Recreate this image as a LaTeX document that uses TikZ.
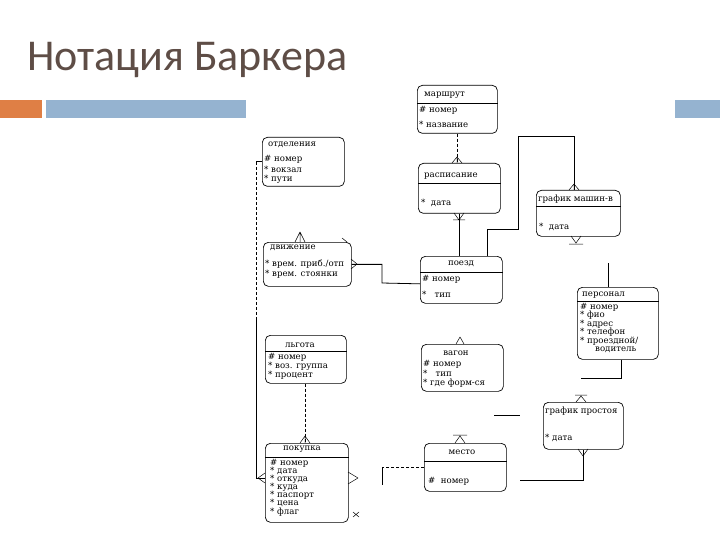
\documentclass[tikz,border=0pt]{standalone}
\usepackage{fontspec}
\setmainfont{DejaVu Serif}
\newfontfamily\titlefont{Carlito}
\definecolor{titlec}{HTML}{5E4D46}
\definecolor{orangebar}{HTML}{DF7F45}
\definecolor{bluebar}{HTML}{95B3D0}
\newcommand\erbox[5]{\node[ent, minimum width=#4pt, minimum height=#5pt] (#1) at (#2,#3) {};}
\begin{document}
\begin{tikzpicture}[x=1pt,y=-1pt,
  ent/.style={draw, rounded corners=5pt, line width=0.7pt, anchor=north west, inner sep=0pt},
  lbl/.style={font=\fontsize{8.6}{8.6}\selectfont, anchor=west, inner sep=0pt},
  ttl/.style={font=\fontsize{8.6}{8.6}\selectfont, anchor=center, inner sep=0pt},
  conn/.style={line width=0.8pt},
  dconn/.style={line width=0.8pt, dash pattern=on 3pt off 2pt},
  crow/.style={line width=0.5pt},
  sep/.style={line width=0.7pt}]
\useasboundingbox (0,0) rectangle (720,540);

% title and bars
\node[anchor=base west, font=\titlefont\fontsize{44}{44}\selectfont, text=titlec, inner sep=0pt] (title) at (27,71) {Нотация Баркера};
\fill[orangebar] (0,100) rectangle (42,118);
\fill[bluebar] (46,100) rectangle (246,118);
\fill[bluebar] (675,100) rectangle (720,118);

% boxes
\erbox{marsh}{417}{85}{80}{48}
\erbox{otd}{262}{137}{82}{49}
\erbox{rasp}{418}{163}{82}{50}
\erbox{grm}{536}{190}{84}{46}
\erbox{dv}{263}{242}{88}{44}
\erbox{poezd}{420}{256}{82}{47}
\erbox{pers}{577}{287}{81}{72}
\erbox{lg}{265}{335}{81}{48}
\erbox{vag}{421}{344}{82}{47}
\erbox{grp}{543}{402}{80}{47}
\erbox{pok}{265}{443}{83}{79}
\erbox{mesto}{424}{443}{82}{48}

% separators
\draw[sep] (marsh.west |- 0,103) -- (marsh.east |- 0,103);
\draw[sep] (rasp.west |- 0,183) -- (rasp.east |- 0,183);
\draw[sep] (grm.west |- 0,206) -- (grm.east |- 0,206);
\draw[sep] (poezd.west |- 0,272) -- (poezd.east |- 0,272);
\draw[sep] (pers.west |- 0,301) -- (pers.east |- 0,301);
\draw[sep] (lg.west |- 0,351) -- (lg.east |- 0,351);
\draw[sep] (pok.west |- 0,457) -- (pok.east |- 0,457);
\draw[sep] (mesto.west |- 0,461) -- (mesto.east |- 0,461);

% texts
\node[lbl] (t1) at (424,95) {маршрут};
\node[lbl] (a11) at (419,110) {\# номер};
\node[lbl] (a12) at (419,124) {* название};

\node[lbl] (t2) at (268,145) {отделения};
\node[lbl] (a21) at (264,159) {\# номер};
\node[lbl] (a22) at (264,169) {* вокзал};
\node[lbl] (a23) at (264,179) {* пути};

\node[lbl] (t3) at (424,176) {расписание};
\node[lbl] (a31) at (421,203) {* \ дата};

\node[lbl] (t4) at (538,199) {график машин-в};
\node[lbl] (a41) at (539,227) {* \ дата};

\node[lbl] (t5) at (270,248) {движение};
\node[lbl] (a51) at (265,264) {* врем. приб./отп};
\node[lbl] (a52) at (265,274) {* врем. стоянки};

\node[ttl] (t6) at (461,264) {поезд};
\node[lbl] (a61) at (422,279) {\# номер};
\node[lbl] (a62) at (422,294) {* \ \ тип};

\node[lbl] (t7) at (582,295) {персонал};
\node[lbl] (a71) at (580,307) {\# номер};
\node[lbl] (a72) at (580,315) {* фио};
\node[lbl] (a73) at (580,324) {* адрес};
\node[lbl] (a74) at (580,332) {* телефон};
\node[lbl] (a75) at (580,341) {* проездной/};
\node[lbl] (a76) at (595,350) {водитель};

\node[ttl] (t8) at (300,345) {льгота};
\node[lbl] (a81) at (268,357) {\# номер};
\node[lbl] (a82) at (268,366) {* воз. группа};
\node[lbl] (a83) at (268,375) {* процент};

\node[ttl] (t9) at (456,353) {вагон};
\node[lbl] (a91) at (423,364) {\# номер};
\node[lbl] (a92) at (423,373) {* \ \ тип};
\node[lbl] (a93) at (423,383) {* где форм-ся};

\node[lbl] (t10) at (545,411) {график простоя};
\node[lbl] (a101) at (545,438) {* дата};

\node[ttl] (t11) at (302,449) {покупка};
\node[lbl] (b1) at (270,463) {\# номер};
\node[lbl] (b2) at (270,471) {* дата};
\node[lbl] (b3) at (270,479) {* откуда};
\node[lbl] (b4) at (270,487) {* куда};
\node[lbl] (b5) at (270,495) {* паспорт};
\node[lbl] (b6) at (270,503) {* цена};
\node[lbl] (b7) at (270,512) {* флаг};

\node[ttl] (t12) at (462,452) {место};
\node[lbl] (c1) at (428,481) {\# \ номер};

% connectors
\draw[dconn] (marsh.south) -- (marsh.south |- rasp.north);
\draw[crow] (457,157) -- (452,163) (457,157) -- (457,163) (457,157) -- (462,163);

\draw[conn] (rasp.south) -- (rasp.south |- poezd.north);
\draw[crow] (459,220) -- (454,213) (459,220) -- (464,213) (453,220) -- (465,220);

\draw[conn] ([xshift=67pt]poezd.north west) |- (518,229) |- (574,136) -- ([xshift=38pt]grm.north west);
\draw[crow] (574,184) -- (569,190) (574,184) -- (574,190) (574,184) -- (579,190);

\draw[crow] (576,243) -- (571,236) (576,243) -- (581,236) (569,244) -- (583,244);

\draw[conn] ([xshift=31pt]pers.north west) -- ++(0,-24) coordinate (pt1);
\draw[conn] ([xshift=44pt]pers.south west) |- (581,378) coordinate (pt2);

\draw[conn] (dv.east) -| (382,283) -- ([yshift=-4pt]poezd.west);
\draw[crow] (357,264) -- (351,259) (357,264) -- (351,269);
\draw[crow] (300,232) -- (295,242) (300,232) -- (300,242) (300,232) -- (305,242);
\draw[crow] (342,238) -- (347,242);

\draw[conn] (otd.west) -- ++(-6,0) coordinate (lt);
\draw[dconn] (lt) -- ++(0,156) coordinate (lm);
\draw[conn] (lm) |- (pok.west |- 0,478);
\draw[crow] (258,478) -- (265,473) (258,478) -- (265,483);

\draw[dconn] (lg.south) -- (lg.south |- pok.north);
\draw[crow] (305,436) -- (300,443) (305,436) -- (305,443) (305,436) -- (310,443);

\draw[crow] (358,478) -- (348,472) (358,478) -- (348,484);
\draw[crow] (353,512) -- (359,517) (353,517) -- (359,512);

\draw[crow] (460,337) -- (456,344) (460,337) -- (464,344);

\draw[dconn] (mesto.west) -- ++(-42,0) coordinate (mw);
\draw[conn] (mw) -- ++(0,18) coordinate (mw2);
\draw[crow] (453,435) -- (467,435) (460,436) -- (455,443) (460,436) -- (465,443);

\coordinate (m2) at (520,480);
\draw[conn] (m2) -| (grp.south);
\draw[crow] (583,456) -- (578,449) (583,456) -- (588,449);
\draw[crow] (575,395) -- (587,395) (581,396) -- (576,402) (581,396) -- (586,402);

\coordinate (s1) at (494,415);
\coordinate (s2) at (520,415);
\draw[conn] (s1) -- (s2);
\end{tikzpicture}
\end{document}
